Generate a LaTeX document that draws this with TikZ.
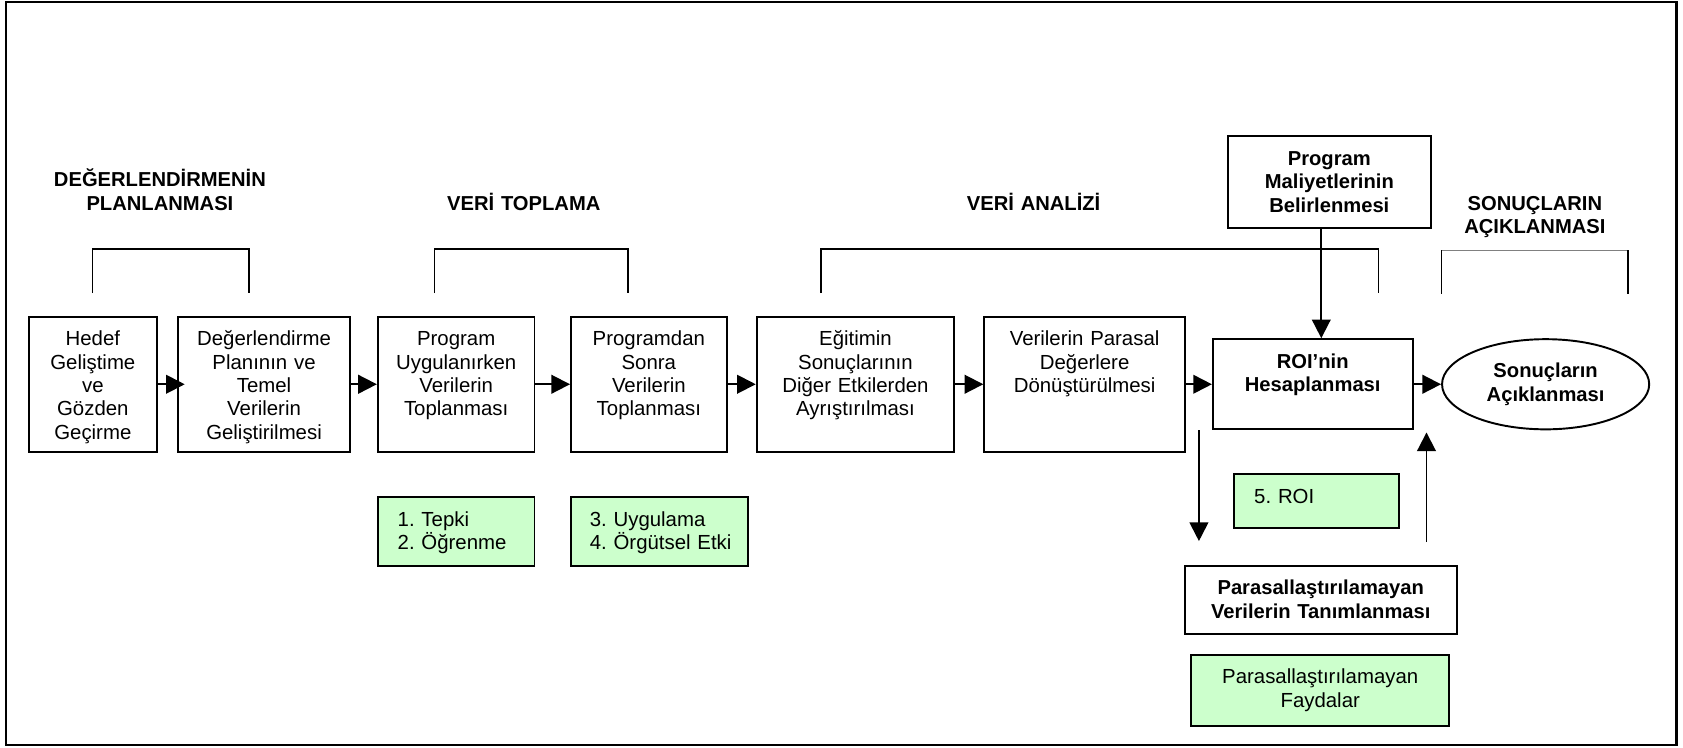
\documentclass[tikz,border=0pt]{standalone}
\usepackage{fontspec}
\setmainfont{Liberation Sans}
\frenchspacing
\usetikzlibrary{arrows.meta,positioning,shapes.geometric}
\definecolor{paleGreen}{RGB}{204,255,204}
\tikzset{
  stepbox/.style={draw, line width=0.9pt, inner sep=0pt, minimum height=63pt},
  greenbox/.style={stepbox, fill=paleGreen, minimum height=32pt},
  resultoval/.style={draw, ellipse, line width=0.9pt, inner sep=0pt, minimum width=96.5pt, minimum height=42pt, align=center, font=\fontsize{9.4}{10.9}\selectfont\bfseries},
  boxtext/.style={anchor=base, align=center, text width=125pt, inner sep=0pt, font=\fontsize{9.5}{10.9}\selectfont},
  boldtext/.style={boxtext, font=\fontsize{9.4}{10.9}\selectfont\bfseries},
  listtext/.style={anchor=base west, align=left, text width=80pt, inner sep=0pt, font=\fontsize{9.5}{10.9}\selectfont},
  phasetitle/.style={boldtext, text width=140pt},
  flowarrow/.style={-{Triangle[length=8.7pt,width=8.7pt]}, line width=0.9pt},
  bracketline/.style={line width=0.6pt}
}
\begin{document}
\begin{tikzpicture}[x=0.5pt, y=-0.5pt]
\useasboundingbox (0,0) rectangle (1568,696);
\draw[line width=1.2pt] (5.5,2) rectangle (1562,694);

% phase titles
\node[phasetitle] (plantitle) at (149,174) {DEĞERLENDİRMENİN\\PLANLANMASI};
\node[phasetitle] (toplatitle) at (488,196) {VERİ TOPLAMA};
\node[phasetitle] (analiztitle) at (963,196) {VERİ ANALİZİ};
\node[phasetitle] (sonuctitle) at (1430,196) {SONUÇLARIN\\AÇIKLANMASI};

% brackets
\draw[bracketline] (86,273) |- (232,232) -- (232,273);
\draw[bracketline] (405,273) |- (585,232) -- (585,273);
\draw[bracketline] (765,273) |- (1284,232) -- (1284,273);
\draw[line width=0.4pt, gray] (1343,233) -- (1517,233);
\draw[line width=0.8pt] (1343,233) -- (1343,274) (1517,233) -- (1517,274);

% main steps
\node[stepbox, minimum width=59.5pt] (hedef) at (86.5,358) {};
\node[stepbox, minimum width=80pt] (plan) at (246,358) {};
\node[stepbox, minimum width=73pt] (uygul) at (425,358) {};
\node[stepbox, minimum width=72.5pt] (sonra) at (604.5,358) {};
\node[stepbox, minimum width=92pt] (ayris) at (797,358) {};
\node[stepbox, minimum width=93.5pt] (parasal) at (1010.5,358) {};
\node[stepbox, minimum width=93pt, minimum height=42pt] (roi) at (1223,358) {};
\node[stepbox, minimum width=94.5pt, minimum height=42.5pt] (maliyet) at (1238.5,169.5) {};
\node[resultoval] (sonuc) at (1440,358) {Sonuçların\\Açıklanması};
\node[stepbox, minimum width=126.5pt, minimum height=32pt] (parasver) at (1230.5,559) {};

\node[boxtext] (hedeftxt) at ([yshift=-14pt]hedef.north) {Hedef\\Geliştime\\ve\\Gözden\\Geçirme};
\node[boxtext] (plantxt) at ([yshift=-14pt]plan.north) {Değerlendirme\\Planının ve\\Temel\\Verilerin\\Geliştirilmesi};
\node[boxtext] (uygultxt) at ([yshift=-14pt]uygul.north) {Program\\Uygulanırken\\Verilerin\\Toplanması};
\node[boxtext] (sonratxt) at ([yshift=-14pt]sonra.north) {Programdan\\Sonra\\Verilerin\\Toplanması};
\node[boxtext] (ayristxt) at ([yshift=-14pt]ayris.north) {Eğitimin\\Sonuçlarının\\Diğer Etkilerden\\Ayrıştırılması};
\node[boxtext] (parasaltxt) at ([yshift=-14pt]parasal.north) {Verilerin Parasal\\Değerlere\\Dönüştürülmesi};
\node[boldtext] (roitxt) at ([yshift=-14pt]roi.north) {ROI’nin\\Hesaplanması};
\node[boldtext] (maliyettxt) at ([yshift=-14pt]maliyet.north) {Program\\Maliyetlerinin\\Belirlenmesi};
\node[boldtext] (parasvertxt) at ([yshift=-14pt]parasver.north) {Parasallaştırılamayan\\Verilerin Tanımlanması};

% level boxes
\node[greenbox, minimum width=73pt] (tepki) at (425,495) {};
\node[greenbox, minimum width=82.5pt] (orgut) at (614.5,495) {};
\node[greenbox, minimum width=76.5pt, minimum height=25pt] (roiliste) at (1226.5,467) {};
\node[greenbox, minimum width=120pt, minimum height=33pt] (fayda) at (1230,643) {};
\node[listtext] (tepkitxt) at ([xshift=9.5pt,yshift=-14pt]tepki.north west) {1. Tepki\\2. Öğrenme};
\node[listtext] (orguttxt) at ([xshift=9pt,yshift=-14pt]orgut.north west) {3. Uygulama\\4. Örgütsel Etki};
\node[listtext] (roilistetxt) at ([xshift=9.5pt,yshift=-14pt]roiliste.north west) {5. ROI};
\node[boxtext] (faydatxt) at ([yshift=-14pt]fayda.north) {Parasallaştırılamayan\\Faydalar};

% connectors
\draw[flowarrow, shorten >=-3.5pt] (hedef) -- (plan);
\draw[flowarrow] (plan) -- (uygul);
\draw[flowarrow] (uygul) -- (sonra);
\draw[flowarrow] (sonra) -- (ayris);
\draw[flowarrow] (ayris) -- (parasal);
\draw[flowarrow] (parasal) -- (roi);
\draw[flowarrow] (roi) -- (sonuc);
\coordinate (costx) at (1231,0);
\coordinate (downx) at (1117,0);
\coordinate (upx) at (1329,0);
\draw[flowarrow] (maliyet.south -| costx) -- (roi.north -| costx);
\draw[flowarrow] (roi.south -| downx) -- ([yshift=11pt]parasver.north -| downx);
\draw[flowarrow] ([yshift=10.5pt]parasver.north -| upx) -- ([yshift=-1pt]roi.south -| upx);
\end{tikzpicture}
\end{document}
